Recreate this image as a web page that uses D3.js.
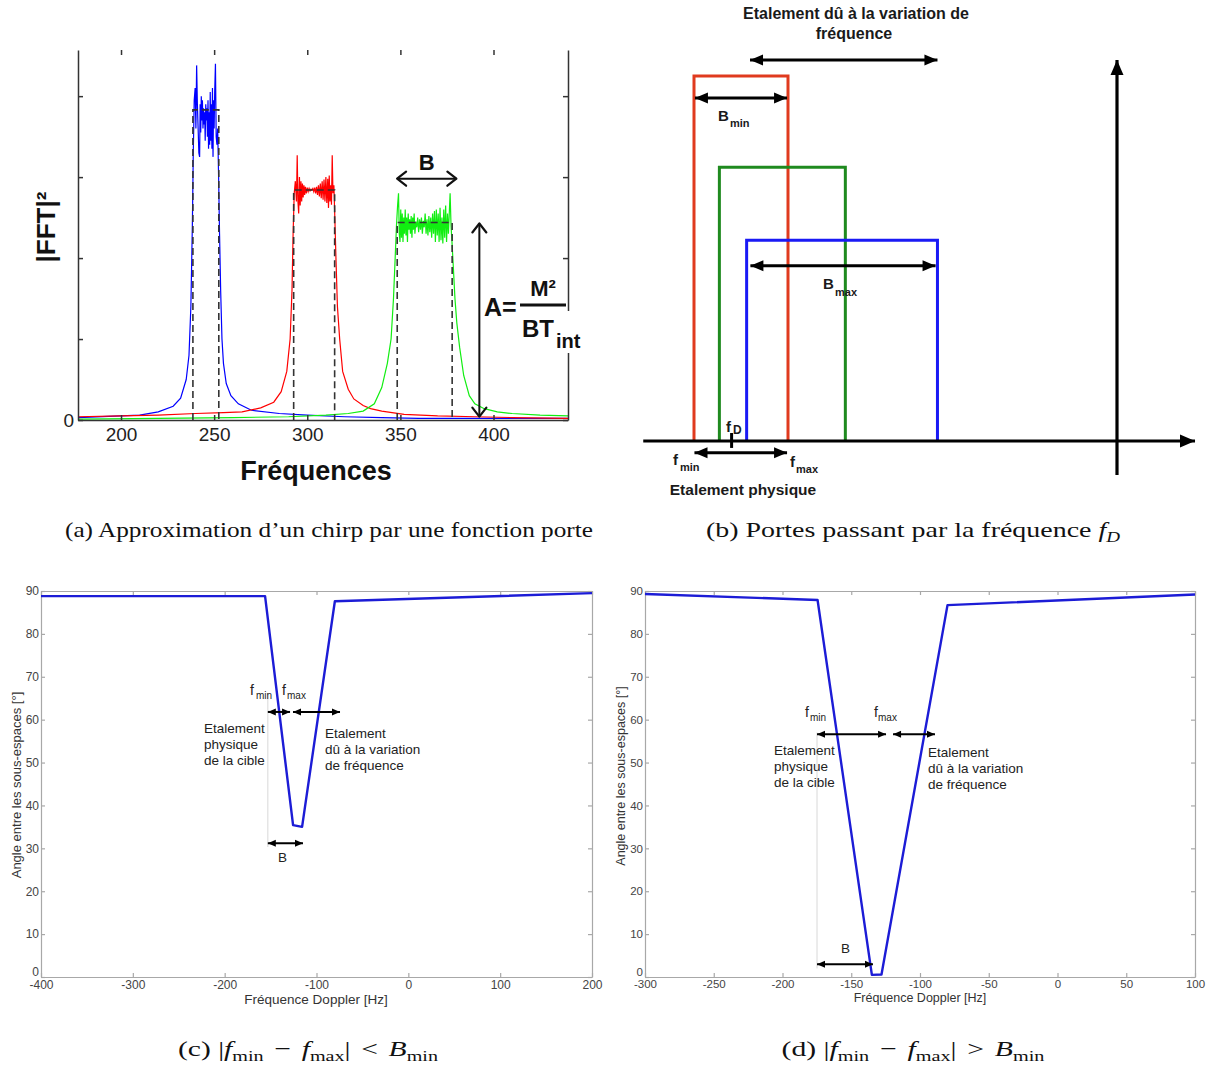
<!DOCTYPE html>
<html><head><meta charset="utf-8">
<script src="https://cdn.jsdelivr.net/npm/d3@7"></script>
<style>body{margin:0;background:#fff}</style>
</head><body><svg id="c" width="1210" height="1066"></svg>
<script>
// ---------- Panel (a) data ----------
const aXTicks=[200,250,300,350,400];
const aYTicks=[0,1,2,3,4];
const aYTickLabels=["0","","","",""];
const blueCurve=[[176.9,0.03],[200,0.05],[210,0.06],[220,0.1],[228,0.17],[232,0.27],[235,0.5],[236.5,0.8],[237.5,1.4],[238.3,2.4],[238.8,3.3],[239.3,3.95],[239.8,4.1],[240.2,3.6],[240.6,4.38],[241,3.9],[241.4,3.6],[241.8,3.3],[242.2,3.25],[242.5,3.9],[242.8,3.55],[243.1,4.0],[243.4,3.7],[243.7,3.95],[244,3.6],[244.3,3.85],[244.6,3.65],[244.9,3.8],[245.2,3.45],[245.5,3.9],[245.8,3.7],[246.1,3.85],[246.4,3.5],[246.7,3.95],[247,3.35],[247.3,3.8],[247.6,3.4],[247.9,4.05],[248.2,3.45],[248.5,3.9],[248.8,3.35],[249.1,4.1],[249.4,3.25],[249.7,3.95],[250,3.6],[250.3,4.05],[250.7,4.4],[251.1,3.5],[251.5,3.4],[251.9,3.6],[252.4,3.0],[252.9,2.3],[253.5,1.6],[254.2,1.0],[255,0.7],[256.5,0.45],[259,0.3],[263,0.2],[270,0.12],[285,0.08],[300,0.06],[320,0.04],[340,0.03],[360,0.02],[440,0.02]];
const redCurve=[[176.9,0.04],[200,0.05],[220,0.06],[240,0.08],[255,0.09],[265,0.1],[275,0.15],[282,0.22],[286,0.35],[289,0.6],[290.8,1.0],[291.8,1.6],[292.4,2.3],[293,2.8],[293.6,2.95],[294.2,2.7],[294.6,3.27],[295,2.7],[295.4,2.55],[295.8,3.0],[296.2,2.65],[296.6,2.95],[297,2.7],[297.4,2.92],[297.8,2.75],[298.2,2.9],[298.6,2.78],[299,2.88],[299.5,2.8],[300,2.87],[300.5,2.82],[301,2.86],[301.5,2.83],[302,2.85],[302.5,2.84],[303,2.86],[303.5,2.82],[304,2.87],[304.5,2.8],[305,2.88],[305.5,2.78],[306,2.9],[306.5,2.76],[307,2.92],[307.5,2.74],[308,2.95],[308.5,2.72],[309,2.97],[309.5,2.7],[310,3.0],[310.5,2.68],[311,2.98],[311.4,2.62],[311.8,3.02],[312.2,2.7],[312.6,2.9],[313,2.66],[313.4,3.27],[313.8,2.8],[314.3,2.9],[314.8,2.5],[315.4,2.0],[316.2,1.4],[317.4,1.0],[319,0.6],[322,0.38],[325,0.26],[330,0.18],[334,0.14],[340,0.11],[352,0.07],[370,0.05],[390,0.04],[410,0.03],[440,0.02]];
const greenCurve=[[176.9,0.01],[220,0.02],[260,0.03],[290,0.04],[310,0.06],[322,0.08],[330,0.11],[336,0.2],[340,0.4],[343,0.7],[345,1.0],[346.3,1.5],[347.2,2.0],[347.9,2.4],[348.5,2.65],[349,2.8],[349.4,2.3],[349.8,2.2],[350.2,2.6],[350.6,2.25],[351,2.55],[351.4,2.2],[351.8,2.5],[352.2,2.3],[352.6,2.6],[353,2.28],[353.4,2.5],[353.8,2.2],[354.2,2.55],[354.6,2.35],[355,2.48],[355.4,2.3],[355.8,2.52],[356.2,2.25],[356.6,2.5],[357,2.35],[357.4,2.55],[357.8,2.3],[358.3,2.45],[358.8,2.38],[359.3,2.5],[359.8,2.32],[360.3,2.48],[360.8,2.35],[361.3,2.5],[361.8,2.3],[362.3,2.46],[362.8,2.38],[363.3,2.55],[363.8,2.3],[364.3,2.48],[364.8,2.28],[365.3,2.52],[365.8,2.32],[366.3,2.5],[366.8,2.25],[367.3,2.55],[367.8,2.3],[368.3,2.58],[368.8,2.2],[369.3,2.6],[369.8,2.28],[370.3,2.55],[370.8,2.2],[371.3,2.62],[371.8,2.22],[372.3,2.5],[372.8,2.18],[373.3,2.6],[373.8,2.25],[374.3,2.65],[374.8,2.2],[375.3,2.55],[375.8,2.3],[376.7,2.8],[377.2,2.4],[377.7,2.2],[378.4,1.9],[379.3,1.5],[380.3,1.2],[381.8,0.9],[384,0.55],[387,0.3],[390,0.2],[395,0.14],[402,0.1],[410,0.08],[425,0.06],[440,0.05]];
const bandLo=[238.6,292.7,348.3];
const bandHi=[252.5,314.7,377.8];
const bandAmp=[3.83,2.84,2.44];
const bArrowA=[347.7,380.6,2.98];   // B arrow: from, to, level
const aArrowA=[392.4,2.44,0.03];    // A arrow: freq, top, bottom

// ---------- Panel (b) data ----------
const gateLo=[0,2.7,5.6];
const gateHi=[10,16.1,25.9];
const gateH=[10,7.5,5.5];
const bAxisX=[-5.4,53.3];
const bAxisYpos=45;
const bAxisY=[-0.93,10.44];
const fDval=4.0;
const spreadArrow=[5.96,25.9,10.44];
const bminArrow=[0.1,9.9,9.4];
const bmaxArrow=[6.0,25.7,4.8];
const physArrow=[0.05,9.9,-0.32];

// ---------- Panel (c) data ----------
const cXTicks=[-400,-300,-200,-100,0,100,200];
const cYTicks=[0,10,20,30,40,50,60,70,80,90];
const cCurveF=[-400,-156,-125.5,-115.7,-80,200];
const cCurveA=[88.8,88.8,35.4,35.0,87.6,89.5];
const cVline=[-153,30.3,66.2];
const cArrow1=[-153,-128.8,61.8];
const cArrow2=[-125.6,-74.4,61.8];
const cArrowB=[-153,-114.7,31.2];

// ---------- Panel (d) data ----------
const dXTicks=[-300,-250,-200,-150,-100,-50,0,50,100];
const dYTicks=[0,10,20,30,40,50,60,70,80,90];
const dCurveF=[-300,-174.5,-135,-128,-80,100];
const dCurveA=[89.3,87.9,0.5,0.6,86.7,89.2];
const dVline=[-174.9,2,57];
const dArrow1=[-174.9,-124.7,56.6];
const dArrow2=[-119.6,-89.1,56.6];
const dArrowB=[-174.9,-134.2,3.0];

// ---------- drawing ----------
const svg=d3.select("#c");
svg.append("rect").attr("width",1210).attr("height",1066).attr("fill","#fff");
const defs=svg.append("defs");
function marker(id,path,fill,stroke,sw){
  defs.append("marker").attr("id",id).attr("viewBox","-20 -10 24 20").attr("refX",0).attr("refY",0)
    .attr("markerWidth",24).attr("markerHeight",20).attr("markerUnits","userSpaceOnUse")
    .attr("orient","auto-start-reverse")
    .append("path").attr("d",path).attr("fill",fill).attr("stroke",stroke).attr("stroke-width",sw)
    .attr("stroke-linecap","round").attr("stroke-linejoin","round");
}
marker("chev","M-9,-7 L0,0 L-9,7","none","#111",2.2);
marker("triB","M-13,-5.5 L0,0 L-13,5.5 Z","#000","none",0);
marker("triAx","M-15,-6.5 L0,0 L-15,6.5 Z","#000","none",0);
marker("triC","M-8,-3.5 L0,0 L-8,3.5 Z","#000","none",0);

function arrow(g,x1,y1,x2,y2,sw,mS,mE,col){
  return g.append("line").attr("x1",x1).attr("y1",y1).attr("x2",x2).attr("y2",y2)
    .attr("stroke",col||"#000").attr("stroke-width",sw)
    .attr("marker-start",mS?`url(#${mS})`:null).attr("marker-end",mE?`url(#${mE})`:null);
}
function txt(g,x,y,s,size,opts){
  opts=opts||{};
  return g.append("text").attr("x",x).attr("y",y).text(s)
    .attr("font-family",opts.family||"Liberation Sans, Arial, sans-serif")
    .attr("font-size",size).attr("font-weight",opts.bold?"bold":null)
    .attr("font-style",opts.italic?"italic":null)
    .attr("text-anchor",opts.anchor||"start").attr("fill",opts.fill||"#111");
}
function styleAxis(g,size,color,lineColor,lw,family){
  g.attr("font-family",family||"Liberation Sans, Arial, sans-serif").attr("font-size",size);
  g.selectAll("text").attr("fill",color);
  g.selectAll("path.domain").attr("stroke",lineColor).attr("stroke-width",lw);
  g.selectAll(".tick line").attr("stroke",lineColor).attr("stroke-width",lw);
}

// ===== Panel (a) =====
const gA=svg.append("g");
const xA=d3.scaleLinear([176.9,440],[78,568]);
const yA=d3.scaleLinear([0,4.57],[420,50]);
const lineA=d3.line().x(d=>xA(d[0])).y(d=>yA(d[1]));
[["#0000ff",blueCurve],["#ff0000",redCurve],["#11ee11",greenCurve]].forEach(([c,data])=>{
  gA.append("path").datum(data).attr("d",lineA).attr("fill","none").attr("stroke",c).attr("stroke-width",1.2);
});
bandLo.forEach((lo,i)=>{
  const pts=[[lo,0],[lo,bandAmp[i]],[bandHi[i],bandAmp[i]],[bandHi[i],0]];
  gA.append("path").datum(pts).attr("d",lineA).attr("fill","none").attr("stroke","#333")
    .attr("stroke-width",1.6).attr("stroke-dasharray","7,4");
});
const axB=gA.append("g").attr("transform","translate(0,420)")
  .call(d3.axisBottom(xA).tickValues(aXTicks).tickSizeInner(-5).tickSizeOuter(0).tickPadding(8));
styleAxis(axB,19,"#222","#333",1.5);
const axT=gA.append("g").attr("transform","translate(0,50)")
  .call(d3.axisTop(xA).tickValues(aXTicks).tickSizeInner(-5).tickSizeOuter(0).tickFormat(""));
axT.select("path.domain").remove();
styleAxis(axT,19,"#222","#333",1.5);
const axL=gA.append("g").attr("transform","translate(78,0)")
  .call(d3.axisLeft(yA).tickValues(aYTicks).tickFormat((d,i)=>aYTickLabels[i]).tickSizeInner(-5).tickSizeOuter(0).tickPadding(4));
styleAxis(axL,19,"#222","#333",1.5);
const axR=gA.append("g").attr("transform","translate(568,0)")
  .call(d3.axisRight(yA).tickValues(aYTicks).tickFormat("").tickSizeInner(-5).tickSizeOuter(0));
styleAxis(axR,19,"#222","#333",1.5);
arrow(gA,xA(bArrowA[0])+1,yA(bArrowA[2]),xA(bArrowA[1])-1,yA(bArrowA[2]),2,"chev","chev","#111");
txt(gA,(xA(bArrowA[0])+xA(bArrowA[1]))/2,yA(bArrowA[2])-9,"B",22,{bold:true,anchor:"middle"});
arrow(gA,xA(aArrowA[0]),yA(aArrowA[1])+1,xA(aArrowA[0]),yA(aArrowA[2])-1,2,"chev","chev","#111");
gA.append("rect").attr("x",519).attr("y",311).attr("width",66).attr("height",42).attr("fill","#fff");
txt(gA,484,316,"A=",25,{bold:true});
txt(gA,543,296,"M²",22,{bold:true,anchor:"middle"});
gA.append("line").attr("x1",520).attr("x2",566).attr("y1",305).attr("y2",305).attr("stroke","#111").attr("stroke-width",3);
txt(gA,522,337,"BT",24,{bold:true});
txt(gA,556,348,"int",20,{bold:true});
txt(gA,0,0,"|FFT|²",26,{bold:true,anchor:"middle"}).attr("transform","translate(55,227) rotate(-90)");
txt(gA,316,480,"Fréquences",27,{bold:true,anchor:"middle"});

// ===== Panel (b) =====
const gB=svg.append("g");
const xB=d3.scaleLinear([0,10],[694,788]);
const yB=d3.scaleLinear([0,10],[441,76]);
const lineB=d3.line().x(d=>xB(d[0])).y(d=>yB(d[1]));
const gateCol=["#e03a1e","#1f8a1f","#1a1af5"];
gateLo.forEach((lo,i)=>{
  gB.append("path").datum([[lo,0],[lo,gateH[i]],[gateHi[i],gateH[i]],[gateHi[i],0]])
    .attr("d",lineB).attr("fill","none").attr("stroke",gateCol[i]).attr("stroke-width",3);
});
arrow(gB,xB(bAxisX[0]),yB(0),xB(bAxisX[1]),yB(0),3.2,null,"triAx");
arrow(gB,xB(bAxisYpos),yB(bAxisY[0]),xB(bAxisYpos),yB(bAxisY[1]),3.2,null,"triAx");
gB.append("line").attr("x1",xB(fDval)).attr("x2",xB(fDval)).attr("y1",yB(0.22)).attr("y2",yB(-0.19))
  .attr("stroke","#000").attr("stroke-width",3);
[spreadArrow,bminArrow,bmaxArrow,physArrow].forEach(a=>{
  arrow(gB,xB(a[0]),yB(a[2]),xB(a[1]),yB(a[2]),3,"triB","triB");
});
const bf={bold:true,fill:"#1a1a1a"};
txt(gB,856,19,"Etalement dû à la variation de",16,{...bf,anchor:"middle"});
txt(gB,854,39,"fréquence",16,{...bf,anchor:"middle"});
txt(gB,718,121,"B",15,bf); txt(gB,730,127,"min",11,bf);
txt(gB,823,289,"B",15,bf); txt(gB,835,296,"max",11,bf);
txt(gB,726,432,"f",15,bf); txt(gB,733,434,"D",12,bf);
txt(gB,673,465,"f",15,bf); txt(gB,680,471,"min",11,bf);
txt(gB,790,467,"f",15,bf); txt(gB,796,473,"max",11,bf);
txt(gB,743,495,"Etalement physique",15.5,{...bf,anchor:"middle"});

// ===== Panels (c) & (d) =====
function matlabPanel(cfg){
  const g=svg.append("g");
  const x=d3.scaleLinear(cfg.xDom,cfg.xRange);
  const y=d3.scaleLinear([0,90],[977,591]);
  const gray="#a8a8a8";
  const fmt=d=>String(d);
  const ax1=g.append("g").attr("transform","translate(0,977)")
    .call(d3.axisBottom(x).tickValues(cfg.xTicks).tickFormat(fmt).tickSizeInner(-4).tickSizeOuter(0).tickPadding(3));
  styleAxis(ax1,cfg.tickSize,"#444",gray,1.2);
  const ax2=g.append("g").attr("transform","translate(0,591)")
    .call(d3.axisTop(x).tickValues(cfg.xTicks).tickSizeInner(-4).tickSizeOuter(0).tickFormat(""));
  styleAxis(ax2,12,"#444",gray,1.2);
  const ax3=g.append("g").attr("transform",`translate(${cfg.xRange[0]},0)`)
    .call(d3.axisLeft(y).tickValues(cfg.yTicks).tickFormat(fmt).tickSizeInner(-4).tickSizeOuter(0).tickPadding(2));
  styleAxis(ax3,cfg.tickSize,"#444",gray,1.2);
  ax3.selectAll(".tick").filter(d=>d===0).select("text").attr("dy","-0.1em");
  const ax4=g.append("g").attr("transform",`translate(${cfg.xRange[1]},0)`)
    .call(d3.axisRight(y).tickValues(cfg.yTicks).tickSizeInner(-4).tickSizeOuter(0).tickFormat(""));
  styleAxis(ax4,12,"#444",gray,1.2);
  g.append("line").attr("x1",x(cfg.vline[0])).attr("x2",x(cfg.vline[0]))
    .attr("y1",y(cfg.vline[1])).attr("y2",y(cfg.vline[2])).attr("stroke","#d8d8d8").attr("stroke-width",1);
  const pts=cfg.f.map((f,i)=>[f,cfg.a[i]]);
  g.append("path").datum(pts).attr("d",d3.line().x(d=>x(d[0])).y(d=>y(d[1])))
    .attr("fill","none").attr("stroke","#1c1cd6").attr("stroke-width",2.4).attr("stroke-linejoin","round");
  [cfg.a1,cfg.a2,cfg.aB].forEach(a=>{
    arrow(g,x(a[0]),y(a[2]),x(a[1]),y(a[2]),2,"triC","triC","#000");
  });
  const tf={fill:"#222"};
  cfg.labels.forEach(l=>txt(g,l[0],l[1],l[2],l[3],tf));
  txt(g,cfg.xlab[0],cfg.xlab[1],"Fréquence Doppler [Hz]",cfg.xlab[2],{fill:"#333",anchor:"middle"});
  txt(g,0,0,"Angle entre les sous-espaces [°]",cfg.ylab[2],{fill:"#333",anchor:"middle"})
    .attr("transform",`translate(${cfg.ylab[0]},${cfg.ylab[1]}) rotate(-90)`);
}
matlabPanel({xDom:[-400,200],xRange:[41,592],xTicks:cXTicks,yTicks:cYTicks,tickSize:12,
  f:cCurveF,a:cCurveA,vline:cVline,a1:cArrow1,a2:cArrow2,aB:cArrowB,
  labels:[[250,695,"f",14],[256,699,"min",10],[282,695,"f",14],[287,699,"max",10],
    [204,733,"Etalement",13.5],[204,749,"physique",13.5],[204,765,"de la cible",13.5],
    [325,738,"Etalement",13.5],[325,754,"dû à la variation",13.5],[325,770,"de fréquence",13.5],
    [278,862,"B",13.5]],
  xlab:[316,1004,13.5],ylab:[21,785,13]});
matlabPanel({xDom:[-300,100],xRange:[645,1195],xTicks:dXTicks,yTicks:dYTicks,tickSize:11.5,
  f:dCurveF,a:dCurveA,vline:dVline,a1:dArrow1,a2:dArrow2,aB:dArrowB,
  labels:[[805,717,"f",14],[810,721,"min",10],[874,717,"f",14],[878,721,"max",10],
    [774,755,"Etalement",13.5],[774,771,"physique",13.5],[774,787,"de la cible",13.5],
    [928,757,"Etalement",13.5],[928,773,"dû à la variation",13.5],[928,789,"de fréquence",13.5],
    [841,953,"B",13.5]],
  xlab:[920,1002,12.5],ylab:[625,776,12.5]});

// ===== Captions =====
const serif="Liberation Serif, 'DejaVu Serif', serif";
function caption(x,y,len,parts){
  const t=svg.append("text").attr("x",x-len/2).attr("y",y)
    .attr("font-family",serif).attr("font-size",22).attr("fill","#111");
  parts.forEach(p=>{
    const s=t.append("tspan").text(p.t);
    if(p.i) s.attr("font-style","italic");
    if(p.sub){ s.attr("font-size",15).attr("dy",5); }
    if(p.up){ s.attr("dy",-5); }
    if(p.dx) s.attr("dx",p.dx);
  });
  t.attr("textLength",len).attr("lengthAdjust","spacingAndGlyphs");
}
caption(329,537,528,[{t:"(a) Approximation d’un chirp par une fonction porte"}]);
caption(913,537,414,[{t:"(b) Portes passant par la fréquence "},{t:"f",i:1},{t:"D",i:1,sub:1}]);
caption(308,1056,260,[{t:"(c) |"},{t:"f",i:1},{t:"min",sub:1},{t:"−",up:1,dx:8},{t:"f",i:1,dx:8},{t:"max",sub:1},{t:"|",up:1},{t:"<",dx:8},{t:"B",i:1,dx:8},{t:"min",sub:1}]);
caption(913,1056,263,[{t:"(d) |"},{t:"f",i:1},{t:"min",sub:1},{t:"−",up:1,dx:8},{t:"f",i:1,dx:8},{t:"max",sub:1},{t:"|",up:1},{t:">",dx:8},{t:"B",i:1,dx:8},{t:"min",sub:1}]);
</script></body></html>
